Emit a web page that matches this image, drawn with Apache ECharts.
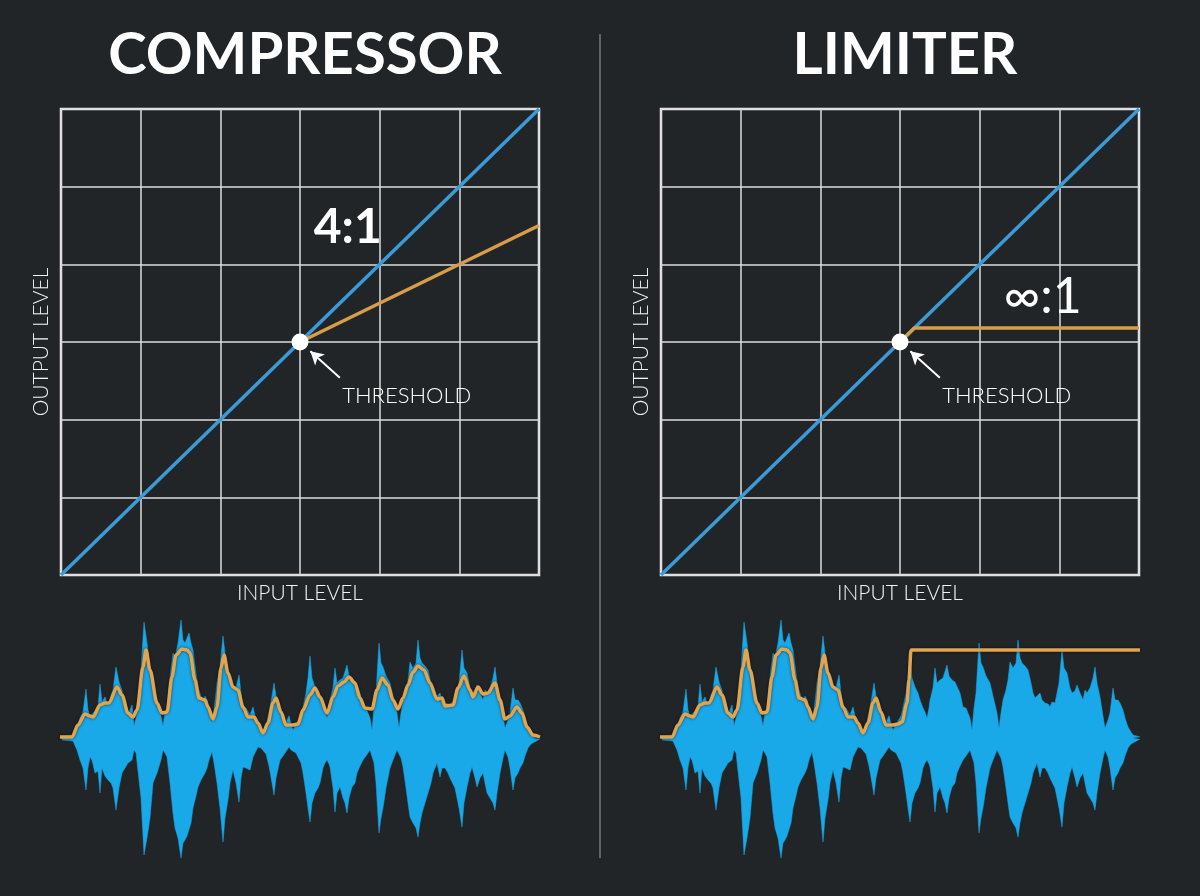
<!DOCTYPE html>
<html><head><meta charset="utf-8">
<script src="https://cdn.jsdelivr.net/npm/echarts@6/dist/echarts.min.js"></script>
<style>html,body{margin:0;padding:0;background:#222528;}#c{width:1200px;height:896px;}</style>
</head><body><div id="c"></div>
<script>
// ---------- data ----------
const titles = ['COMPRESSOR', 'LIMITER'];
const axisNames = ['INPUT LEVEL', 'OUTPUT LEVEL'];
const unityLine = [[0, 0], [6, 6]];
const compressorCurve = [[3, 3], [6, 4.5]];
const limiterCurve = [[3, 3], [3.18, 3.18], [6, 3.18]];
const thresholdPoint = [3, 3];
const arrowFrom = [3.5, 2.54];
const arrowTo = [3.13, 2.88];
const compLabels = [['4:1', 3.6, 4.47], ['THRESHOLD', 4.34, 2.30]];
const limLabels = [['\u221E:1', 4.79, 3.58], ['THRESHOLD', 4.34, 2.30]];

// waveform: [position, amplitude] for the upper and lower edges
const waveUpper = [[0,2],[11,3],[15,12],[18,20],[21,26],[24,49],[26,28],[28,22],[30,20],[33,27],[36,31],[38,54],[40,36],[43,41],[46,32],[49,43],[51,48],[54,71],[57,56],[60,48],[63,30],[66,23],[70,33],[72,12],[74,20],[76,28],[79,68],[82,116],[85,95],[88,68],[91,48],[95,38],[99,22],[101,12],[103,25],[105,30],[108,61],[111,85],[113,80],[116,95],[119,118],[121,98],[123,95],[125,100],[127,105],[129,95],[131,88],[134,65],[136,51],[139,42],[141,38],[143,42],[145,38],[147,30],[150,16],[152,28],[155,55],[158,72],[161,102],[163,85],[166,65],[168,58],[171,51],[174,50],[177,63],[179,45],[181,25],[184,30],[188,23],[191,31],[193,22],[196,14],[199,10],[201,5],[204,12],[207,25],[210,42],[212,55],[214,42],[218,28],[221,20],[223,11],[225,18],[227,22],[229,14],[231,8],[234,14],[236,13],[239,22],[241,31],[244,45],[246,60],[248,82],[250,60],[253,51],[256,45],[258,38],[261,30],[263,26],[265,20],[267,30],[268,38],[271,50],[273,70],[275,55],[278,58],[281,60],[283,62],[285,73],[287,62],[290,58],[293,56],[295,55],[298,45],[301,31],[304,30],[306,28],[308,20],[310,8],[312,30],[314,45],[317,95],[319,75],[321,71],[324,62],[328,55],[331,42],[335,25],[337,10],[339,25],[341,38],[344,48],[346,58],[348,76],[351,70],[354,75],[356,98],[358,80],[360,75],[363,72],[366,68],[369,55],[371,45],[373,40],[375,38],[378,45],[380,38],[383,35],[386,34],[388,31],[390,36],[393,35],[395,45],[397,55],[400,88],[402,70],[405,65],[408,50],[410,45],[413,47],[415,53],[418,45],[421,38],[423,48],[425,45],[428,50],[431,60],[433,71],[435,55],[438,41],[441,22],[443,10],[446,18],[448,25],[451,50],[453,38],[456,38],[458,35],[461,28],[463,20],[466,11],[469,6],[471,3],[478,1]];
const waveLower = [[0,2],[11,3],[15,12],[18,22],[21,30],[24,52],[26,30],[28,19],[30,22],[33,35],[36,33],[38,55],[40,30],[43,38],[46,42],[49,45],[51,50],[54,72],[57,50],[60,35],[63,30],[66,25],[70,22],[72,12],[74,15],[76,17],[79,60],[82,117],[85,100],[88,80],[91,45],[95,35],[99,22],[101,12],[103,15],[105,19],[108,45],[111,75],[113,90],[116,100],[119,120],[121,105],[123,102],[125,98],[127,99],[129,85],[131,70],[134,58],[136,49],[139,42],[141,40],[143,35],[145,30],[147,22],[150,14],[152,25],[155,45],[158,70],[161,104],[163,80],[166,62],[168,45],[171,32],[174,45],[177,64],[179,40],[181,29],[184,30],[188,32],[191,19],[193,15],[196,9],[199,10],[201,12],[204,16],[207,28],[210,45],[212,57],[214,40],[218,22],[221,18],[223,15],[225,14],[227,9],[229,12],[231,12],[234,15],[236,14],[239,25],[241,35],[244,55],[246,70],[248,84],[250,65],[253,55],[256,50],[258,45],[261,30],[263,25],[265,22],[267,26],[268,29],[271,50],[273,74],[275,55],[278,49],[281,60],[283,65],[285,75],[287,60],[290,49],[293,45],[295,35],[298,28],[301,22],[304,18],[306,15],[308,12],[310,10],[312,25],[314,45],[317,95],[319,80],[321,70],[324,50],[328,30],[331,22],[335,12],[337,12],[339,20],[341,29],[344,50],[346,65],[348,79],[351,85],[354,90],[356,99],[358,85],[360,75],[363,65],[366,55],[369,45],[371,35],[373,30],[375,25],[378,39],[380,30],[383,30],[386,35],[388,40],[390,42],[393,50],[395,60],[397,70],[400,89],[402,65],[405,49],[408,35],[410,29],[413,40],[415,49],[418,40],[421,35],[423,45],[425,55],[428,60],[431,65],[433,72],[435,55],[438,35],[441,20],[443,12],[446,19],[448,30],[451,52],[453,40],[456,35],[458,30],[461,25],[463,18],[466,10],[469,6],[471,4],[478,1]];

// envelope followers
const envX = [-2,10,16,23,28,31,38,43,47,55,60,66,71,75,81,84,88,95,100,105,110,114,120,125,128,133,137,143,146,151,155,159,162,166,171,176,181,186,192,196,201,206,211,214,219,224,231,236,241,248,253,258,265,271,276,282,287,293,298,303,310,315,320,326,331,336,341,346,351,356,362,368,375,380,383,391,396,402,408,411,416,421,426,433,438,443,448,455,460,465,471,478];
const envComp = [1,1,13,24,22,21,33,35,35,51,43,25,21,28,71,88,68,35,25,26,61,83,89,88,85,58,40,38,31,19,31,70,83,65,51,48,31,21,21,15,5,15,35,40,26,13,13,14,28,43,50,41,25,41,52,56,61,55,40,30,29,48,60,53,38,29,40,53,66,72,68,55,39,40,32,33,50,62,48,41,51,44,45,55,38,19,22,31,25,11,3,1];
const envLimX = [-2,10,16,23,28,31,38,43,47,55,60,66,71,75,81,84,88,95,100,105,110,114,120,125,128,133,137,143,146,151,155,159,162,166,171,176,181,186,192,196,201,206,211,214,219,224,231,236,240,245,247,249,478];
const envLim = [1,1,13,24,22,21,33,35,35,51,43,25,21,28,71,88,68,35,25,26,61,83,89,88,85,58,40,38,31,19,31,70,83,65,51,48,31,21,21,15,5,15,35,40,26,13,13,14,16,35,58,88,88];

// ---------- styles ----------
const BG = '#222528';
const BLUE = '#3b9bd6';
const ORANGE = '#d89d48';
const WAVE = '#19a8e8';
const ENV = '#e3a44e';
const FONT = 'Lato, "Open Sans", sans-serif';

const pairXY = (xs, ys) => xs.map((x, i) => [x, ys[i]]);
const flip = pts => pts.map(p => [p[0], -p[1]]);

function transferAxes(idx) {
  return {
    x: {
      type: 'value', gridIndex: idx, min: 0, max: 6, interval: 1,
      axisLine: { show: false }, axisTick: { show: false }, axisLabel: { show: false },
      splitLine: { show: true, lineStyle: { color: '#dcdcdc', width: 1.5 } },
      name: axisNames[0], nameLocation: 'middle', nameGap: 8,
      nameTextStyle: { color: '#f2f2f2', fontSize: 21, fontFamily: FONT, fontWeight: 300, verticalAlign: 'top' }
    },
    y: {
      type: 'value', gridIndex: idx, min: 0, max: 6, interval: 1,
      axisLine: { show: false }, axisTick: { show: false }, axisLabel: { show: false },
      splitLine: { show: true, lineStyle: { color: '#dcdcdc', width: 1.5 } },
      name: axisNames[1], nameLocation: 'middle', nameGap: 9, nameRotate: 90,
      nameTextStyle: { color: '#f2f2f2', fontSize: 21, fontFamily: FONT, fontWeight: 300 }
    }
  };
}
function waveAxes(idx) {
  return {
    x: { type: 'value', gridIndex: idx, min: -2, max: 478, show: false },
    y: { type: 'value', gridIndex: idx, min: -120, max: 120, show: false }
  };
}
const a0 = transferAxes(0), a1 = transferAxes(1), a2 = waveAxes(2), a3 = waveAxes(3);

function labelSeries(idx, labels) {
  return {
    type: 'scatter', xAxisIndex: idx, yAxisIndex: idx, symbolSize: 1, z: 6,
    itemStyle: { color: 'rgba(0,0,0,0)', opacity: 1 }, silent: true,
    data: labels.map(l => ({
      value: [l[1], l[2]],
      label: {
        show: true, position: 'inside', formatter: l[0], color: '#ffffff', opacity: 1, fontFamily: FONT,
        fontSize: l[0] === 'THRESHOLD' ? 22 : (l[0] === '4:1' ? 48 : 50),
        fontWeight: l[0] === 'THRESHOLD' ? 300 : (l[0] === '4:1' ? 'bold' : 'normal')
      }
    }))
  };
}
function transferSeries(idx, curve) {
  return [
    { type: 'line', xAxisIndex: idx, yAxisIndex: idx, data: unityLine, symbol: 'none',
      lineStyle: { color: BLUE, width: 3.5 }, z: 3 },
    { type: 'line', xAxisIndex: idx, yAxisIndex: idx, data: curve, symbol: 'none',
      lineStyle: { color: ORANGE, width: 3.5 }, z: 4 },
    { type: 'scatter', xAxisIndex: idx, yAxisIndex: idx, data: [thresholdPoint], symbolSize: 17,
      itemStyle: { color: '#ffffff', opacity: 1 }, z: 5,
      markLine: { silent: true, symbol: ['none', 'arrow'], symbolSize: [11, 13],
        lineStyle: { color: '#ffffff', width: 2, type: 'solid', opacity: 1 }, label: { show: false },
        data: [[{ coord: arrowFrom }, { coord: arrowTo }]] } },
    labelSeries(idx, idx === 0 ? compLabels : limLabels)
  ];
}
function waveSeries(idx, ex, ey) {
  return [
    { type: 'line', xAxisIndex: idx, yAxisIndex: idx, data: waveUpper, symbol: 'none',
      lineStyle: { width: 0.5, color: WAVE }, areaStyle: { color: WAVE, opacity: 1 }, z: 2 },
    { type: 'line', xAxisIndex: idx, yAxisIndex: idx, data: flip(waveLower), symbol: 'none',
      lineStyle: { width: 0.5, color: WAVE }, areaStyle: { color: WAVE, opacity: 1 }, z: 2 },
    { type: 'line', xAxisIndex: idx, yAxisIndex: idx, data: pairXY(ex, ey), symbol: 'none',
      smooth: 0.3, smoothMonotone: 'x',
      lineStyle: { width: 3.5, color: ENV, shadowColor: 'rgba(0,0,0,0.6)', shadowBlur: 3 }, z: 3 }
  ];
}

const chart = echarts.init(document.getElementById('c'), null, { renderer: 'canvas' });
chart.setOption({
  backgroundColor: BG,
  animation: false,
  title: [
    { text: titles[0], left: 300, top: 21, textAlign: 'center',
      textStyle: { color: '#ffffff', fontSize: 58, fontWeight: 'bold', fontFamily: FONT } },
    { text: titles[1], left: 900, top: 21, textAlign: 'center',
      textStyle: { color: '#ffffff', fontSize: 58, fontWeight: 'bold', fontFamily: FONT } }
  ],
  graphic: [
    { type: 'line', shape: { x1: 600, y1: 34, x2: 600, y2: 858 }, style: { stroke: '#8d8f92', lineWidth: 1.2 } }
  ],
  grid: [
    { left: 61, top: 109, width: 478, height: 466, show: true, borderColor: '#e6e6e6', borderWidth: 2.5, backgroundColor: 'transparent' },
    { left: 661, top: 109, width: 478, height: 466, show: true, borderColor: '#e6e6e6', borderWidth: 2.5, backgroundColor: 'transparent' },
    { left: 60, top: 618, width: 480, height: 240 },
    { left: 660, top: 618, width: 480, height: 240 }
  ],
  xAxis: [a0.x, a1.x, a2.x, a3.x],
  yAxis: [a0.y, a1.y, a2.y, a3.y],
  series: [].concat(
    transferSeries(0, compressorCurve),
    transferSeries(1, limiterCurve),
    waveSeries(2, envX, envComp),
    waveSeries(3, envLimX, envLim)
  )
});
</script>
</body></html>
